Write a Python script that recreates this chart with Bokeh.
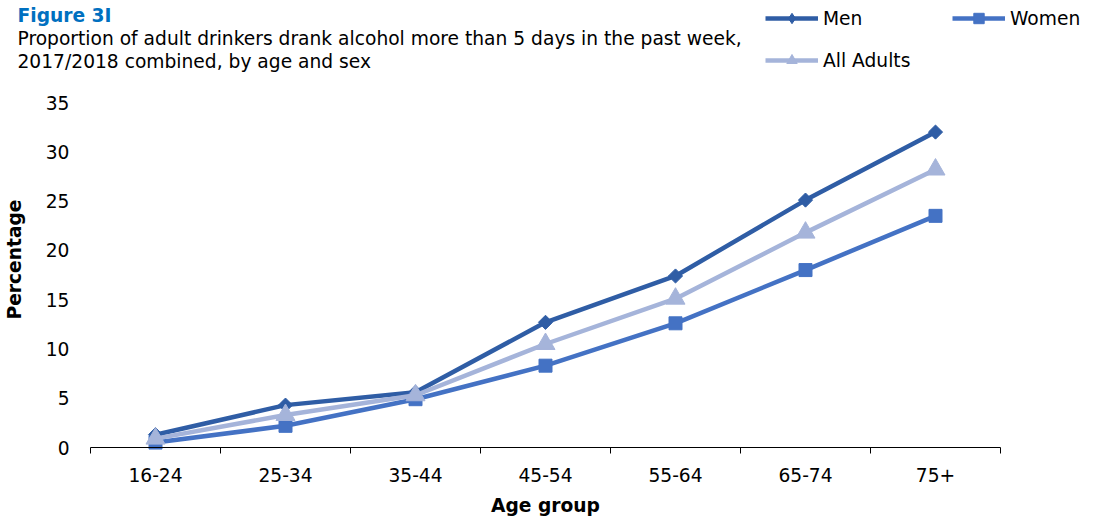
import math
from bokeh.plotting import figure
from bokeh.models import (FixedTicker, Label, Legend, LegendItem, Range1d, LinearAxis)
from bokeh.embed import file_html
from bokeh.resources import INLINE

ages = ["16-24", "25-34", "35-44", "45-54", "55-64", "65-74", "75+"]
men = [1.3, 4.3, 5.6, 12.7, 17.4, 25.1, 32.0]
women = [0.5, 2.2, 4.9, 8.3, 12.6, 18.0, 23.5]
all_adults = [0.9, 3.3, 5.3, 10.5, 15.1, 21.8, 28.2]
y_ticks = [0, 5, 10, 15, 20, 25, 30, 35]

FONT = "DejaVu Sans"
FS = "18.67px"
W, H = 1091, 518
xs = [i + 0.5 for i in range(len(ages))]

# frame covers the whole canvas; the axes sit at fixed data locations
X0, X1 = 90, 1000     # canvas px of x=0 and x=7
Y0, Y35 = 447, 102    # canvas px (from top) of y=0 and y=35
sx = (X1 - X0) / len(ages)
sy = (Y0 - Y35) / 35
p = figure(width=W, height=H, output_backend="svg", toolbar_location=None,
           x_range=Range1d(-X0 / sx, len(ages) + (W - X1) / sx),
           y_range=Range1d(-(H - Y0) / sy, 35 + Y35 / sy),
           x_axis_location=None, y_axis_location=None,
           min_border=0)
p.outline_line_color = None
p.grid.visible = False

C_MEN = "#2F5DA5"
C_WOMEN = "#4472C4"
C_ALL = "#A5B4DA"

l1 = p.line(xs, men, line_color=C_MEN, line_width=4.5)
m1 = p.scatter(xs, men, marker="square", angle=math.pi / 4, size=10, color=C_MEN)
# diamond used only for the legend swatch (zero size on the plot)
m1_leg = p.scatter(xs, men, marker="diamond", size=0, color=C_MEN)
l2 = p.line(xs, women, line_color=C_WOMEN, line_width=4.5)
m2 = p.scatter(xs, women, marker="square", size=13, color=C_WOMEN)
l3 = p.line(xs, all_adults, line_color=C_ALL, line_width=4.5)
m3 = p.scatter(xs, all_adults, marker="triangle", size=19, color=C_ALL)

xa = LinearAxis(fixed_location=0, bounds=(0, len(ages)))
xa.ticker = FixedTicker(ticks=xs, minor_ticks=list(range(len(ages) + 1)))
xa.major_label_overrides = {x: a for x, a in zip(xs, ages)}
xa.major_tick_out = 0
xa.major_tick_in = 0
xa.minor_tick_out = 6
xa.minor_tick_in = 0
xa.minor_tick_line_color = "#000000"
xa.axis_line_color = "#000000"
xa.major_label_text_font = FONT
xa.major_label_text_font_size = FS
xa.major_label_text_color = "#000000"
xa.major_label_standoff = 14
xa.axis_label = "Age group"
xa.axis_label_text_font = FONT
xa.axis_label_text_font_style = "bold"
xa.axis_label_text_font_size = FS
xa.axis_label_text_color = "#000000"
xa.axis_label_standoff = 10
p.add_layout(xa, "below")

ya = LinearAxis(fixed_location=0)
ya.ticker = FixedTicker(ticks=y_ticks)
ya.axis_line_color = None
ya.major_tick_line_color = None
ya.major_tick_out = 0
ya.major_tick_in = 0
ya.minor_tick_line_color = None
ya.major_label_text_font = FONT
ya.major_label_text_font_size = FS
ya.major_label_text_color = "#000000"
ya.major_label_standoff = 21
ya.axis_label = "Percentage"
ya.axis_label_text_font = FONT
ya.axis_label_text_font_style = "bold"
ya.axis_label_text_font_size = FS
ya.axis_label_text_color = "#000000"
ya.axis_label_standoff = 18
p.add_layout(ya, "left")

p.add_layout(Label(x=17, y=H - 25, x_units="screen", y_units="screen",
                   text="Figure 3I", text_font=FONT, text_font_style="bold",
                   text_font_size=FS, text_color="#0070C0"))
p.add_layout(Label(x=17, y=H - 48, x_units="screen", y_units="screen",
                   text="Proportion of adult drinkers drank alcohol more than 5 days in the past week,",
                   text_font=FONT, text_font_size=FS, text_color="#000000"))
p.add_layout(Label(x=17, y=H - 71, x_units="screen", y_units="screen",
                   text="2017/2018 combined, by age and sex",
                   text_font=FONT, text_font_size=FS, text_color="#000000"))

legend = Legend(items=[LegendItem(label="Men", renderers=[l1, m1_leg]),
                       LegendItem(label="All Adults", renderers=[l3, m3]),
                       LegendItem(label="Women", renderers=[l2, m2])],
                ncols=2, location=(765, H - 73), padding=0, margin=0,
                glyph_width=53, glyph_height=26, label_standoff=5, spacing=16,
                label_width=113,
                border_line_alpha=0, background_fill_alpha=0,
                label_text_font=FONT, label_text_font_size=FS,
                label_text_color="#000000")
p.add_layout(legend)

open("out.html", "w").write(file_html(p, INLINE))
